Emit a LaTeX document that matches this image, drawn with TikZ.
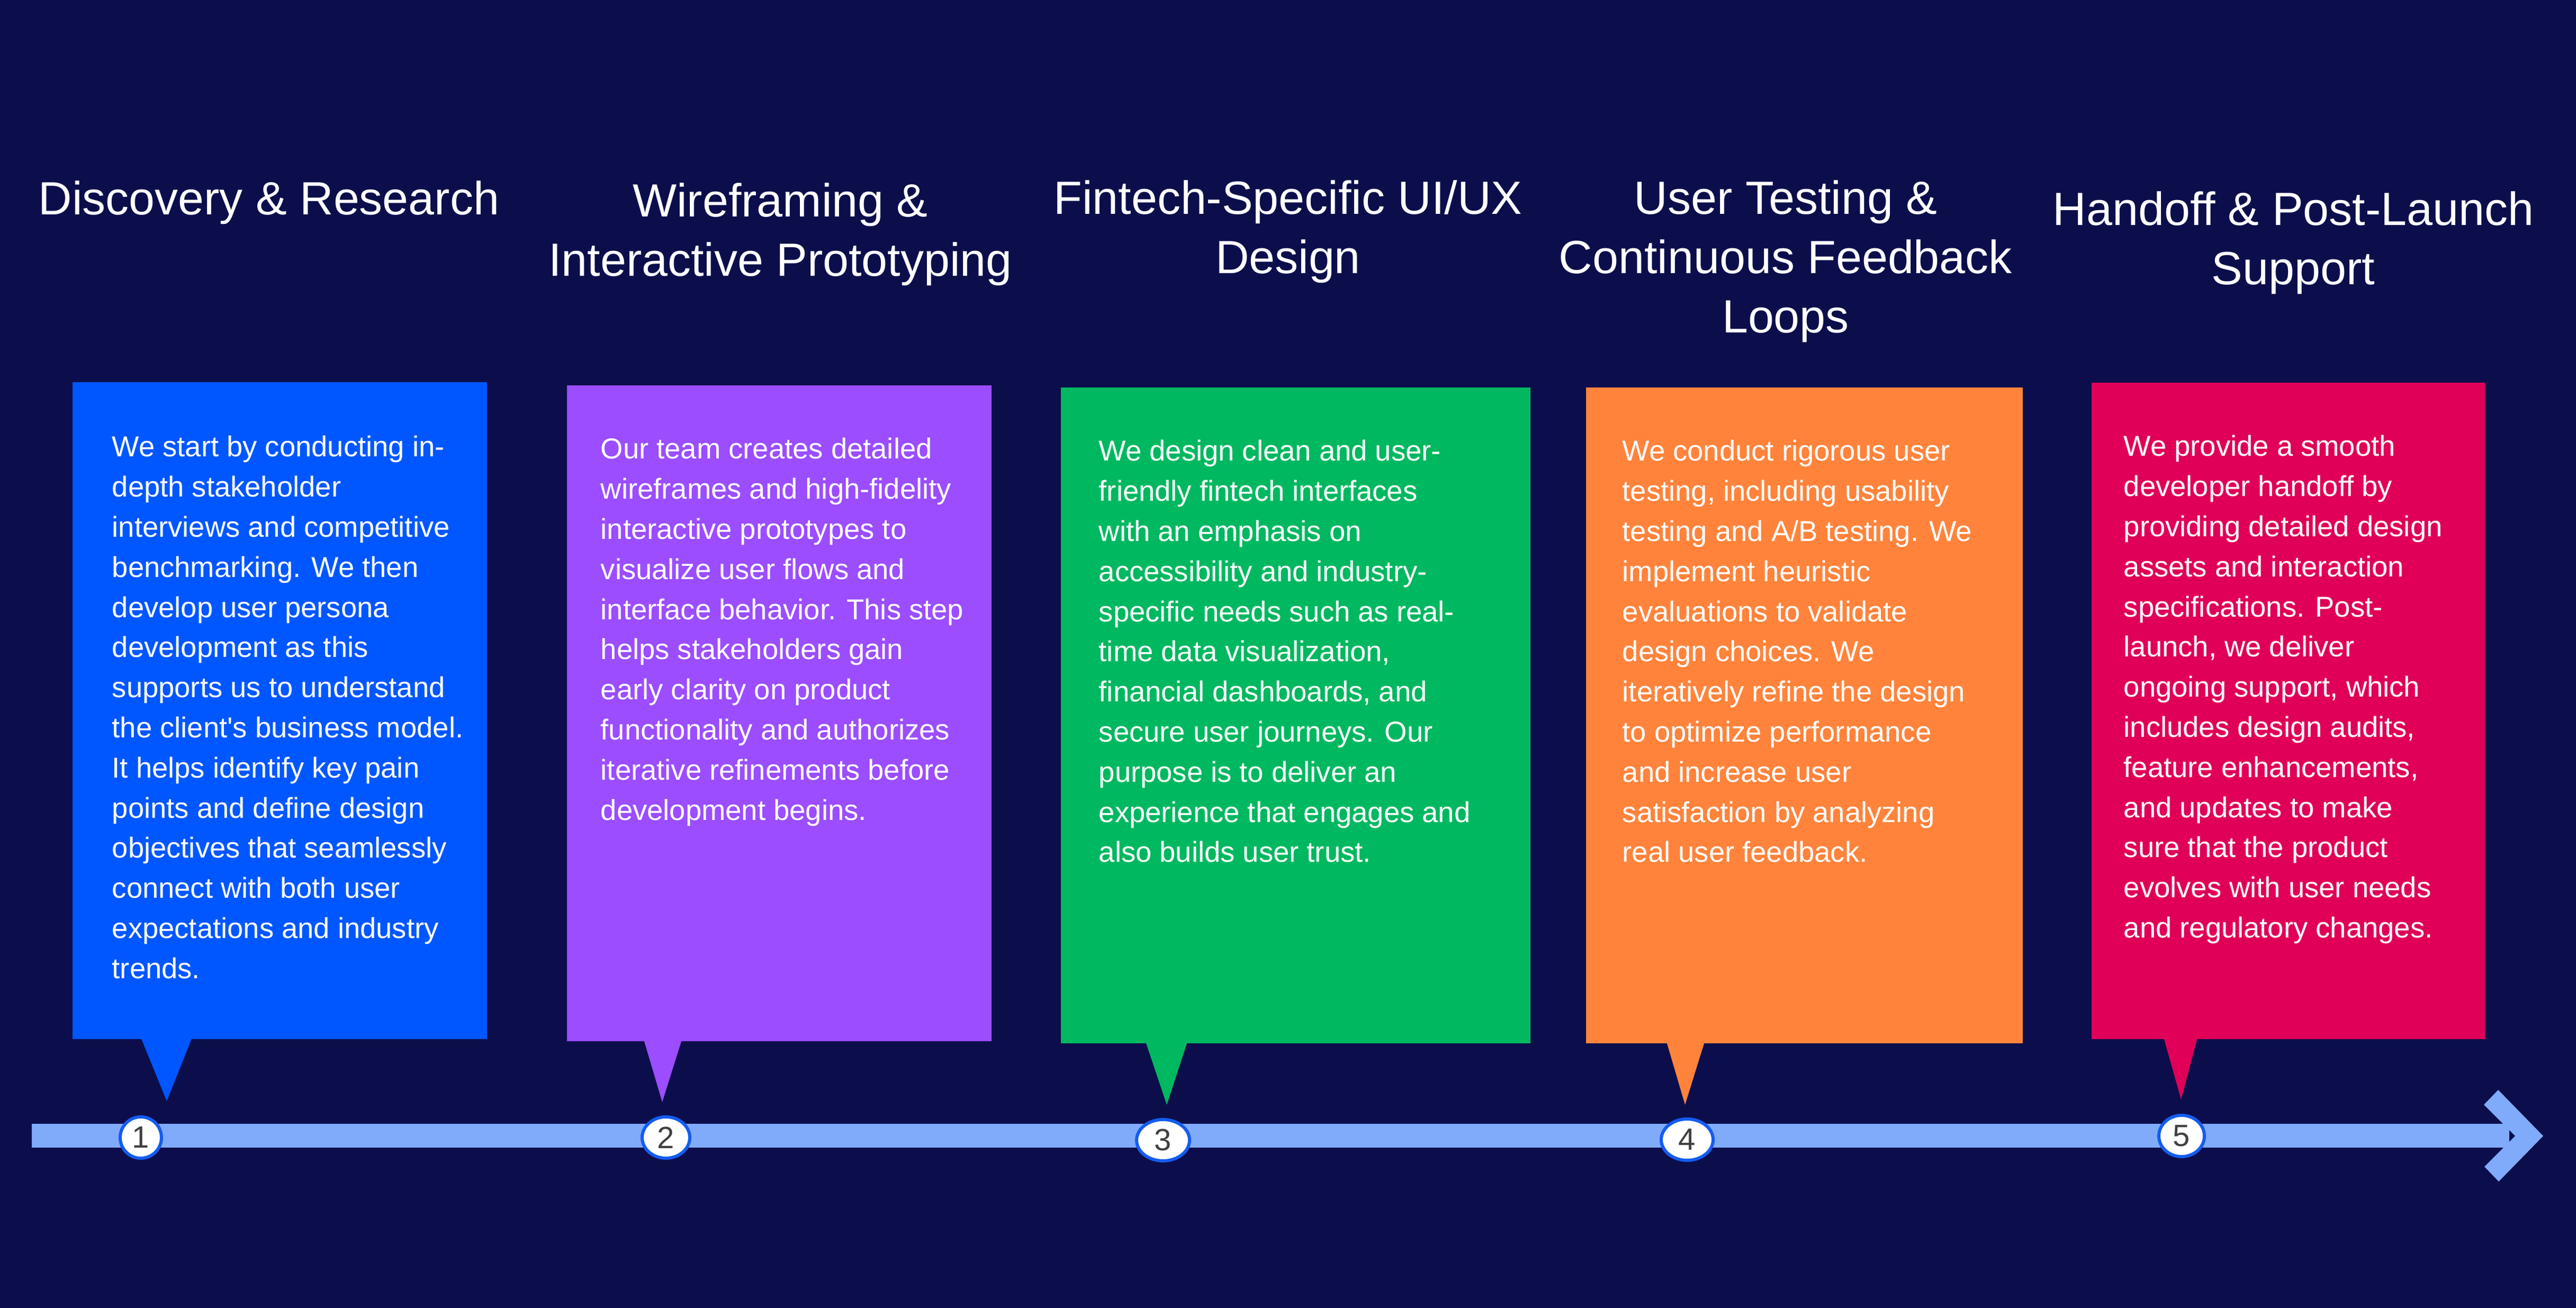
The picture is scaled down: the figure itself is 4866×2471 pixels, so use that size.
\documentclass[tikz,border=0pt]{standalone}
\usepackage{fontspec}
\newfontfamily\gsans{Liberation Sans}
\usetikzlibrary{shapes.geometric}
\definecolor{bg}{RGB}{12,14,76}
\definecolor{cblue}{RGB}{0,87,255}
\definecolor{cpurple}{RGB}{155,77,255}
\definecolor{cgreen}{RGB}{0,184,96}
\definecolor{corange}{RGB}{255,131,59}
\definecolor{cpink}{RGB}{224,0,88}
\definecolor{band}{RGB}{128,170,250}
\definecolor{ringblue}{RGB}{20,92,240}
\definecolor{digitgray}{RGB}{64,64,64}
\begin{document}
\begin{tikzpicture}[x=0.25pt,y=-0.25pt,
  heading/.style={font=\gsans\fontsize{22}{28}\selectfont, text=white, align=center, anchor=north, inner sep=0pt},
  bodytext/.style={font=\gsans\fontsize{13.6}{18.95}\selectfont, text=white, align=left, anchor=north west, inner sep=0pt},
  marker/.style={ellipse, draw=ringblue, line width=1.5pt, fill=white, inner sep=0pt, minimum height=19.5pt, font=\gsans\fontsize{14.5}{16}\selectfont, text=digitgray}]
\useasboundingbox (0,0) rectangle (4866,2471);
\fill[bg] (0,0) rectangle (4866,2471);

% headings
\node[heading] (h1) at (508,305) {\rule{0pt}{25pt}Discovery \& Research};
\node[heading] (h2) at (1474,309) {\rule{0pt}{25pt}Wireframing \&\\Interactive Prototyping};
\node[heading] (h3) at (2433,304) {\rule{0pt}{25pt}Fintech-Specific UI/UX\\Design};
\node[heading] (h4) at (3373,304) {\rule{0pt}{25pt}User Testing \&\\Continuous Feedback\\Loops};
\node[heading] (h5) at (4332,325) {\rule{0pt}{25pt}Handoff \& Post-Launch\\Support};

% boxes with pointers
\fill[cblue] (137,722) rectangle (920,1963);
\fill[cblue] (266,1960) -- (315,2080) -- (363,1960) -- cycle;
\fill[cpurple] (1071,728) rectangle (1873,1967);
\fill[cpurple] (1216,1964) -- (1251,2082) -- (1288,1964) -- cycle;
\fill[cgreen] (2004,732) rectangle (2891,1971);
\fill[cgreen] (2164,1968) -- (2204,2087) -- (2243,1968) -- cycle;
\fill[corange] (2996,732) rectangle (3821,1971);
\fill[corange] (3148,1968) -- (3183,2087) -- (3220,1968) -- cycle;
\fill[cpink] (3951,723) rectangle (4694,1963);
\fill[cpink] (4087,1960) -- (4120,2077) -- (4151,1960) -- cycle;

% body texts
\node[bodytext] (t1) at (211,802) {\rule{0pt}{15pt}We start by conducting in-\\depth stakeholder\\interviews and competitive\\benchmarking. We then\\develop user persona\\development as this\\supports us to understand\\the client's business model.\\It helps identify key pain\\points and define design\\objectives that seamlessly\\connect with both user\\expectations and industry\\trends.};
\node[bodytext] (t2) at (1134,806) {\rule{0pt}{15pt}Our team creates detailed\\wireframes and high-fidelity\\interactive prototypes to\\visualize user flows and\\interface behavior. This step\\helps stakeholders gain\\early clarity on product\\functionality and authorizes\\iterative refinements before\\development begins.};
\node[bodytext] (t3) at (2075,810) {\rule{0pt}{15pt}We design clean and user-\\friendly fintech interfaces\\with an emphasis on\\accessibility and industry-\\specific needs such as real-\\time data visualization,\\financial dashboards, and\\secure user journeys. Our\\purpose is to deliver an\\experience that engages and\\also builds user trust.};
\node[bodytext] (t4) at (3064,810) {\rule{0pt}{15pt}We conduct rigorous user\\testing, including usability\\testing and A/B testing. We\\implement heuristic\\evaluations to validate\\design choices. We\\iteratively refine the design\\to optimize performance\\and increase user\\satisfaction by analyzing\\real user feedback.};
\node[bodytext] (t5) at (4011,801) {\rule{0pt}{15pt}We provide a smooth\\developer handoff by\\providing detailed design\\assets and interaction\\specifications. Post-\\launch, we deliver\\ongoing support, which\\includes design audits,\\feature enhancements,\\and updates to make\\sure that the product\\evolves with user needs\\and regulatory changes.};

% timeline band and arrow head
\fill[band] (60,2123) rectangle (4740,2168);
\fill[band] (4692,2087) -- (4719,2059) -- (4804,2146) -- (4720,2232) -- (4693,2204) -- (4751,2146) -- cycle;

% step markers
\node[marker, minimum width=19.5pt] (m1) at (266,2149) {1};
\node[marker, minimum width=22.5pt] (m2) at (1258,2149) {2};
\node[marker, minimum width=25pt] (m3) at (2197,2154) {3};
\node[marker, minimum width=24.5pt] (m4) at (3187,2153) {4};
\node[marker, minimum width=21.5pt] (m5) at (4121,2146) {5};
\end{tikzpicture}
\end{document}
